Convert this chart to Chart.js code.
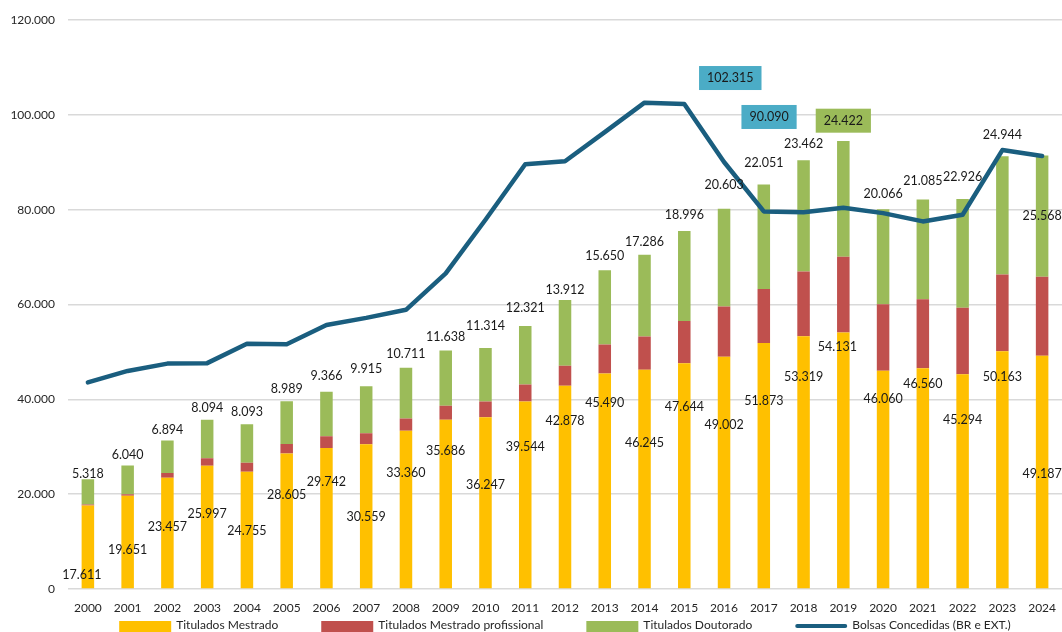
<!DOCTYPE html>
<html lang="pt-BR">
<head>
<meta charset="utf-8">
<script src="https://cdn.jsdelivr.net/npm/chart.js@4.4.1/dist/chart.umd.min.js"></script>
<style>
  html, body { margin: 0; padding: 0; background: #fff; }
  #caixa { width: 1062px; height: 632px; }
</style>
</head>
<body>
<div id="caixa"><canvas id="grafica"></canvas></div>
<script>
// Dados
const anos = ['2000', '2001', '2002', '2003', '2004', '2005', '2006', '2007', '2008', '2009', '2010', '2011',
  '2012', '2013', '2014', '2015', '2016', '2017', '2018', '2019', '2020', '2021', '2022', '2023', '2024'];
const mestrado = [17611, 19651, 23457, 25997, 24755, 28605, 29742, 30559, 33360, 35686, 36247, 39544,
  42878, 45490, 46245, 47644, 49002, 51873, 53319, 54131, 46060, 46560, 45294, 50163, 49187];
const mestradoProf = [200, 350, 1000, 1600, 1900, 2000, 2500, 2300, 2600, 3000, 3300, 3600,
  4200, 6100, 7000, 8900, 10600, 11400, 13650, 15950, 14000, 14550, 14050, 16200, 16700];
const doutorado = [5318, 6040, 6894, 8094, 8093, 8989, 9366, 9915, 10711, 11638, 11314, 12321,
  13912, 15650, 17286, 18996, 20603, 22051, 23462, 24422, 20066, 21085, 22926, 24944, 25568];
const bolsas = [43600, 46000, 47550, 47650, 51750, 51650, 55700, 57200, 58900, 66600, 77900, 89600,
  90250, 96400, 102600, 102315, 90090, 79650, 79500, 80450, 79300, 77550, 78950, 92600, 91350];
const ticksY = [0, 20000, 40000, 60000, 80000, 100000, 120000];

// onde cada rotulo fica (em valores do eixo y)
const posRotuloMestrado = [2900, 8200, 13100, 15900, 12250, 19800, 22500, 15200, 24400, 29150, 22000, 30050,
  35500, 39150, 30900, 38450, 34700, 39700, 44800, 51100, 40100, 43200, 35700, 44800, 24300];
const posRotuloDoutorado = [24300, 28200, 33600, 38200, 37300, 42200, 45000, 46500, 49500, 53200, 55500, 59300,
  63050, 70200, 73200, 79000, 85300, 89800, 93800, 98800, 83300, 86000, 86900, 95800, 78600];
const desvioXMestrado = { 0: -6, 19: -6 };
const rotulosBolsas = { 15: { dx: 46, dy: -26 }, 16: { dx: 45, dy: -45 } };

const cores = {
  mestrado: '#FFC000',
  prof: '#C0504D',
  doutorado: '#9BBB59',
  bolsas: '#1A5E7F',
  caixaAzul: '#4BACC6'
};
const FONTE = 'Lato, "Open Sans", sans-serif';

function fmt(v) {
  return String(v).replace(/\B(?=(\d{3})+(?!\d))/g, '.');
}

function caixaTexto(ctx, texto, x, y, fundo) {
  ctx.font = '12.5px ' + FONTE;
  const w = ctx.measureText(texto).width;
  if (fundo) {
    ctx.fillStyle = fundo;
    ctx.fillRect(x - w / 2 - 8, y - 12, w + 16, 24);
  }
  ctx.fillStyle = '#1a1a1a';
  ctx.textAlign = 'center';
  ctx.textBaseline = 'middle';
  ctx.fillText(texto, x, y);
}

// Rotulos de dados
const rotulos = {
  id: 'rotulos',
  afterDatasetsDraw(chart) {
    const ctx = chart.ctx;
    const escY = chart.scales.y;
    const metaM = chart.getDatasetMeta(0);
    const metaD = chart.getDatasetMeta(2);
    const metaL = chart.getDatasetMeta(3);
    ctx.save();
    mestrado.forEach((v, i) => {
      const x = metaM.data[i].x + (desvioXMestrado[i] || 0);
      caixaTexto(ctx, fmt(v), x, escY.getPixelForValue(posRotuloMestrado[i]));
    });
    doutorado.forEach((v, i) => {
      const x = metaD.data[i].x;
      caixaTexto(ctx, fmt(v), x, escY.getPixelForValue(posRotuloDoutorado[i]), i === 19 ? cores.doutorado : null);
    });
    Object.keys(rotulosBolsas).forEach(k => {
      const p = metaL.data[k];
      const d = rotulosBolsas[k];
      caixaTexto(ctx, fmt(bolsas[k]), p.x + d.dx, p.y + d.dy, cores.caixaAzul);
    });
    ctx.restore();
  }
};

// Legenda desenhada a mao
const legenda = {
  id: 'legenda',
  afterDraw(chart) {
    const ctx = chart.ctx;
    const itens = [
      { texto: 'Titulados Mestrado', cor: cores.mestrado },
      { texto: 'Titulados Mestrado profissional', cor: cores.prof },
      { texto: 'Titulados Doutorado', cor: cores.doutorado },
      { texto: 'Bolsas Concedidas (BR e EXT.)', cor: cores.bolsas, linha: true }
    ];
    ctx.save();
    ctx.font = '12px ' + FONTE;
    const caixa = 52, folga = 5, entre = 43;
    const larguras = itens.map(it => caixa + folga + ctx.measureText(it.texto).width);
    const total = larguras.reduce((a, b) => a + b, 0) + entre * (itens.length - 1);
    let x = (chart.chartArea.left + chart.chartArea.right) / 2 - total / 2;
    const yTexto = chart.height - 7;
    itens.forEach((it, i) => {
      if (it.linha) {
        ctx.strokeStyle = it.cor;
        ctx.lineWidth = 4;
        ctx.lineCap = 'round';
        ctx.beginPath();
        ctx.moveTo(x + 2, yTexto + 1);
        ctx.lineTo(x + caixa - 2, yTexto + 1);
        ctx.stroke();
      } else {
        ctx.fillStyle = it.cor;
        ctx.fillRect(x, yTexto - 4, caixa, 11);
      }
      ctx.fillStyle = '#262626';
      ctx.textAlign = 'left';
      ctx.textBaseline = 'middle';
      ctx.fillText(it.texto, x + caixa + folga, yTexto);
      x += larguras[i] + entre;
    });
    ctx.restore();
  }
};

new Chart(document.getElementById('grafica').getContext('2d'), {
  data: {
    labels: anos,
    datasets: [
      { type: 'bar', label: 'Titulados Mestrado', data: mestrado, backgroundColor: cores.mestrado, stack: 'tit', order: 1 },
      { type: 'bar', label: 'Titulados Mestrado profissional', data: mestradoProf, backgroundColor: cores.prof, stack: 'tit', order: 1 },
      { type: 'bar', label: 'Titulados Doutorado', data: doutorado, backgroundColor: cores.doutorado, stack: 'tit', order: 1 },
      { type: 'line', label: 'Bolsas Concedidas (BR e EXT.)', data: bolsas, borderColor: cores.bolsas, borderWidth: 4.5,
        pointRadius: 0, tension: 0, borderJoinStyle: 'round', borderCapStyle: 'round', stack: 'bolsas', order: 0 }
    ]
  },
  options: {
    responsive: true,
    maintainAspectRatio: false,
    animation: false,
    datasets: { bar: { barPercentage: 0.315, categoryPercentage: 1 } },
    layout: { padding: { top: 18, right: 0, bottom: 13, left: 0 } },
    plugins: { legend: { display: false }, tooltip: { enabled: false } },
    scales: {
      x: {
        stacked: true,
        grid: { display: false },
        border: { display: false },
        ticks: { color: '#262626', font: { family: FONTE, size: 12 }, padding: 4, maxRotation: 0 },
        afterFit(s) { s.height = 30; }
      },
      y: {
        stacked: true,
        min: 0,
        max: 120000,
        afterBuildTicks(s) { s.ticks = ticksY.map(v => ({ value: v })); },
        grid: { color: '#d9d9d9', lineWidth: 1.5, drawTicks: false },
        border: { display: false },
        ticks: { color: '#262626', font: { family: FONTE, size: 12 }, padding: 13, callback: v => fmt(v) },
        afterFit(s) { s.width = 68; }
      }
    }
  },
  plugins: [rotulos, legenda]
});
</script>
</body>
</html>
